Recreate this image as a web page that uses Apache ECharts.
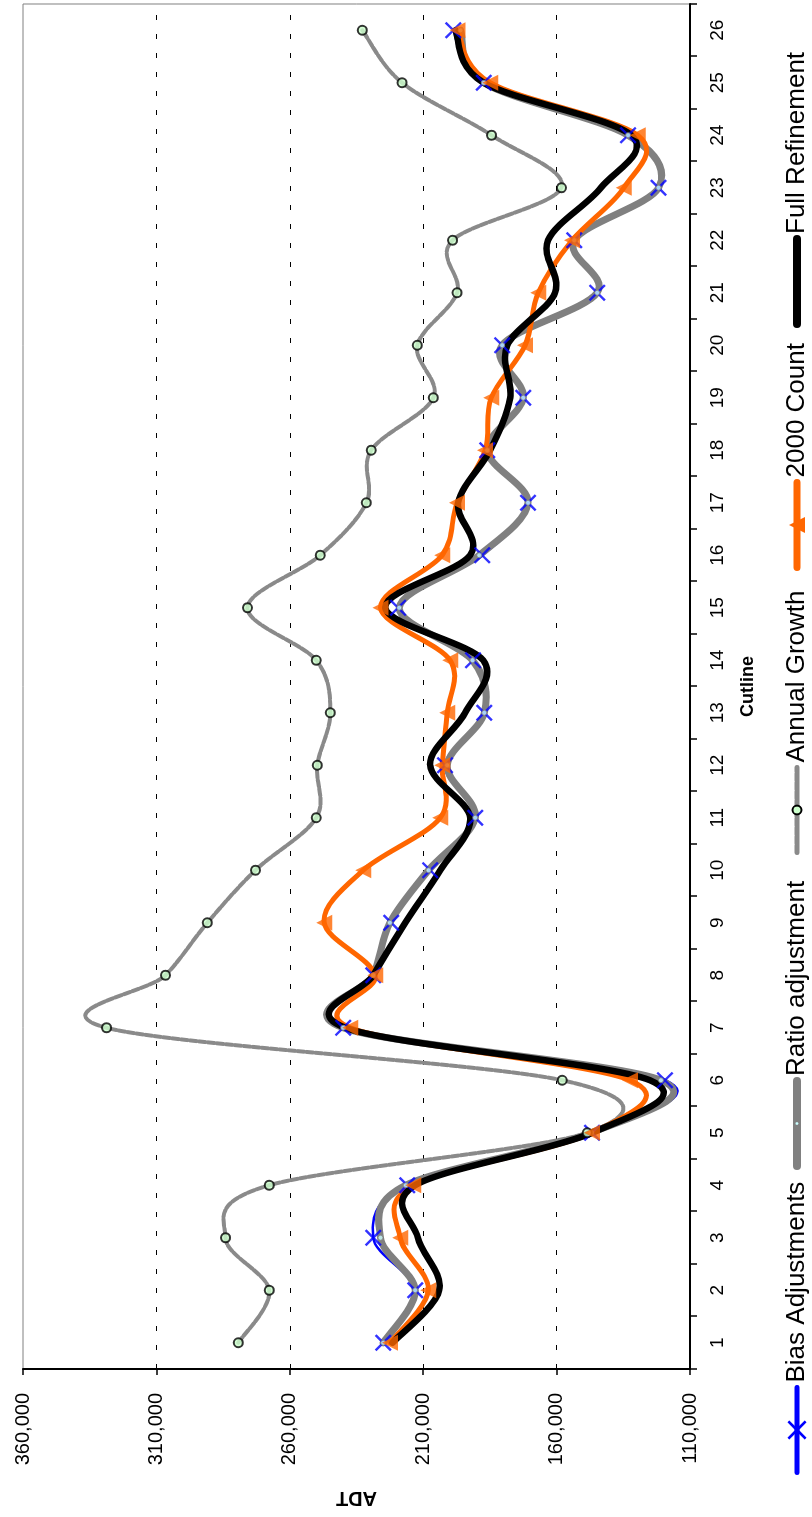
<!DOCTYPE html>
<html><head><meta charset="utf-8">
<script src="https://cdn.jsdelivr.net/npm/echarts@6/dist/echarts.min.js"></script>
<style>
html,body{margin:0;padding:0;width:812px;height:1517px;overflow:hidden;background:#fff;}
#chart{position:absolute;left:0;top:1517px;width:1517px;height:812px;transform-origin:0 0;transform:rotate(-90deg);}
</style></head><body><div id="chart"></div>
<script>
const categories = ['1','2','3','4','5','6','7','8','9','10','11','12','13','14','15','16','17','18','19','20','21','22','23','24','25','26'];
const biasAdjustments = [225000,213000,228700,216000,146700,119400,240000,228700,222000,207400,190500,201800,187100,191300,219400,187900,170700,186000,172500,180400,144800,153400,121800,133200,187300,198700];
const ratioAdjustment = [225000,213000,226000,216500,147000,120900,240000,228700,222500,208000,190500,201000,187100,191500,219000,189000,170700,186000,172500,180400,144800,153400,121800,133200,187300,196000];
const annualGrowth = [279300,267700,284100,267700,148500,157900,328700,306600,290900,272900,250100,249700,244800,250100,275900,248600,231300,229500,206200,212200,197300,199000,158200,184400,217900,232800];
const count2000 = [222400,208100,218600,213700,146700,132500,237300,228000,247100,232500,203600,202900,201000,199900,226000,202900,197300,186800,184500,171800,166900,154200,134800,129600,184900,197100];
const fullRefinement = [221500,204000,212000,213000,146700,125000,239200,228700,216700,203600,192400,207400,194300,187500,224200,192400,196900,184900,177400,178500,160600,163200,143400,132000,187300,197900];
const valueMin = 110000, valueMax = 360000, valueStep = 50000;
const seriesNames = ['Bias Adjustments','Ratio adjustment','Annual Growth','2000 Count','Full Refinement'];

const FONT = 'Liberation Sans, Arial, sans-serif';
const X_PATH = 'path://M1,0L5,4L9,0L10,1L6,5L10,9L9,10L5,6L1,10L0,9L4,5L0,1Z';
const styles = [
  {data: biasAdjustments, line:{color:'#0000ff', width:2.5}, symbol:X_PATH, size:17, item:{color:'#0000ff'}},
  {data: ratioAdjustment, line:{color:'#808080', width:7}, symbol:'circle', size:5, item:{color:'#ccffff', borderColor:'#808080', borderWidth:1}},
  {data: annualGrowth, line:{color:'#8a8a8a', width:4, type:[7,2]}, symbol:'circle', size:9, item:{color:'#ccffcc', borderColor:'#000', borderWidth:2}},
  {data: count2000, line:{color:'#ff6600', width:5}, symbol:'triangle', size:16, item:{color:'#ff6600'}},
  {data: fullRefinement, line:{color:'#000000', width:6.5}, symbol:'none', size:0, item:{color:'#000000'}}
];

// Excel-like smoothed curve (Bezier, control arms = 1/6 of neighbour chord)
function smoothPath(pts) {
  let d = 'M' + pts[0][0] + ',' + pts[0][1];
  for (let i = 0; i < pts.length - 1; i++) {
    const p0 = pts[i - 1] || pts[i], p1 = pts[i], p2 = pts[i + 1], p3 = pts[i + 2] || pts[i + 1];
    const c1x = p1[0] + (p2[0] - p0[0]) / 6, c1y = p1[1] + (p2[1] - p0[1]) / 6;
    const c2x = p2[0] - (p3[0] - p1[0]) / 6, c2y = p2[1] - (p3[1] - p1[1]) / 6;
    d += 'C' + c1x + ',' + c1y + ' ' + c2x + ',' + c2y + ' ' + p2[0] + ',' + p2[1];
  }
  return d;
}

const series = [];
// legend carriers (line series give the legend its line + marker icon)
styles.forEach((s, i) => {
  series.push({
    type:'line', name: seriesNames[i], data: [],
    symbol: s.symbol, symbolSize: s.size,
    lineStyle: Object.assign({cap:'round', join:'round'}, s.line),
    itemStyle: s.item, silent: true
  });
});
// curves
styles.forEach((s, i) => {
  series.push({
    type:'custom', name:'curve' + i, data: s.data.map((v, k) => [k, v]),
    encode:{x:0, y:1}, z:2, silent:true, clip:false,
    renderItem: (params, api) => {
      if (params.dataIndex !== 0) return null;
      const pts = s.data.map((v, k) => api.coord([k, v]));
      return {
        type:'path', shape:{pathData: smoothPath(pts)},
        style:{fill:'none', stroke:s.line.color, lineWidth:s.line.width,
          lineDash: s.line.type || null, lineCap:'round', lineJoin:'round'}
      };
    }
  });
});
// markers
styles.forEach((s, i) => {
  if (s.symbol === 'none') return;
  series.push({
    type:'scatter', name: 'marker' + i, data: s.data,
    symbol: s.symbol, symbolSize: s.size, itemStyle: s.item, z: 3, silent: true
  });
});

const legendPos = [42, 347, 662, 946, 1189];
const legendItemH = [24, 6, 11, 20, 6];
const legendLineW = [5, 8, 5, 7, 8];
const legends = seriesNames.map((n, i) => ({
  data:[n], left: legendPos[i], top: 784, orient:'horizontal', padding:0,
  itemWidth: 85, itemHeight: legendItemH[i], selectedMode:false,
  lineStyle:{width: legendLineW[i]},
  textStyle:{fontSize:26, color:'#000', fontFamily:FONT}
}));

const chart = echarts.init(document.getElementById('chart'), null, {renderer:'canvas'});
chart.setOption({
  animation:false,
  backgroundColor:'#fff',
  grid:{left:148, right:4, top:23, bottom:122, show:true, borderColor:'#808080', borderWidth:1, backgroundColor:'transparent'},
  legend: legends,
  xAxis:{
    type:'category', data: categories, boundaryGap:true,
    axisLine:{lineStyle:{color:'#000', width:2}},
    axisTick:{show:true, length:7, interval:0, lineStyle:{color:'#000', width:1.5}},
    axisLabel:{margin:18, fontSize:19, color:'#000', fontFamily:FONT, interval:0},
    name:'Cutline', nameLocation:'middle', nameGap:49,
    nameTextStyle:{fontSize:18, fontWeight:'bold', color:'#000', fontFamily:FONT}
  },
  yAxis:{
    type:'value', min: valueMin, max: valueMax, interval: valueStep,
    axisLine:{show:true, lineStyle:{color:'#000', width:2}},
    axisTick:{show:true, length:6, lineStyle:{color:'#000', width:1.5}},
    axisLabel:{margin:24, fontSize:20, color:'#000', fontFamily:FONT,
      formatter: v => v.toLocaleString('en-US')},
    splitLine:{show:true, showMinLine:false, showMaxLine:false, lineStyle:{color:'#000', width:1, type:[5,14]}},
    name:'ADT', nameLocation:'middle', nameGap:119, nameRotate:90,
    nameTextStyle:{fontSize:20, fontWeight:'bold', color:'#000', fontFamily:FONT}
  },
  series: series
});
</script></body></html>
